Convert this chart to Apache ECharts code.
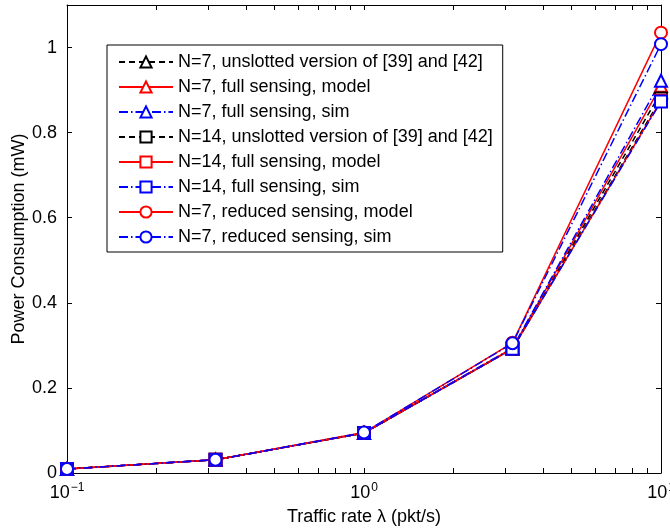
<!DOCTYPE html>
<html>
<head>
<meta charset="utf-8">
<script src="https://cdn.jsdelivr.net/npm/echarts@6/dist/echarts.min.js"></script>
<style>
  html, body { margin: 0; padding: 0; background: #fff; }
  #chart { width: 670px; height: 528px; }
</style>
</head>
<body>
<div id="chart"></div>
<script>
// Traffic rate lambda (pkt/s), sampled at half-decade steps
const trafficRate = [0.1, 0.3162, 1, 3.162, 10];

// Power consumption (mW) for each configuration
const n7Unslotted      = [0.0095, 0.031, 0.094, 0.292, 0.895];
const n7FullModel      = [0.0095, 0.031, 0.094, 0.293, 0.910];
const n7FullSim        = [0.0095, 0.031, 0.094, 0.294, 0.922];
const n14Unslotted     = [0.0095, 0.031, 0.094, 0.292, 0.880];
const n14FullModel     = [0.0095, 0.031, 0.094, 0.292, 0.875];
const n14FullSim       = [0.0095, 0.031, 0.094, 0.292, 0.873];
const n7ReducedModel   = [0.0095, 0.031, 0.095, 0.306, 1.035];
const n7ReducedSim     = [0.0095, 0.031, 0.095, 0.305, 1.008];

const seriesNames = [
  'N=7, unslotted version of [39] and [42]',
  'N=7, full sensing, model',
  'N=7, full sensing, sim',
  'N=14, unslotted version of [39] and [42]',
  'N=14, full sensing, model',
  'N=14, full sensing, sim',
  'N=7, reduced sensing, model',
  'N=7, reduced sensing, sim'
];

// Tick positions
const xMinorTicks = [0.1,0.2,0.3,0.4,0.5,0.6,0.7,0.8,0.9,1,2,3,4,5,6,7,8,9,10];
const xLabelTicks = [0.1, 1, 10];
const yTicks = [0, 0.2, 0.4, 0.6, 0.8, 1];

const FONT = '"Liberation Sans", Arial, Helvetica, sans-serif';
const DASH = [6, 4];
const DASHDOT = [9, 3, 1.5, 3];

function pairs(ys) { return trafficRate.map((x, i) => [x, ys[i]]); }

function mkSeries(name, ys, color, dash, symbol) {
  return {
    name: name,
    type: 'line',
    data: pairs(ys),
    symbol: symbol,
    symbolSize: 12,
    showAllSymbol: true,
    lineStyle: { color: color, width: 1.5, type: dash },
    itemStyle: { color: color, borderColor: color, borderWidth: 1.5 },
    emphasis: { disabled: true },
    animation: false
  };
}

const chart = echarts.init(document.getElementById('chart'), null, { renderer: 'canvas' });

const axisLineStyle = { color: '#000', width: 1 };

chart.setOption({
  backgroundColor: '#fff',
  animation: false,
  grid: { left: 67, right: 9, top: 5, bottom: 55, containLabel: false, outerBoundsMode: 'none' },
  legend: {
    orient: 'vertical',
    left: 107,
    top: 45,
    padding: [8, 10, 6, 11],
    itemWidth: 54,
    itemHeight: 14,
    itemGap: 7,
    borderColor: '#000',
    borderWidth: 1,
    backgroundColor: '#fff',
    textStyle: { fontFamily: FONT, fontSize: 18, color: '#000', lineHeight: 18 },
    data: seriesNames
  },
  xAxis: [{
    type: 'log',
    logBase: 10,
    min: 0.1,
    max: 10,
    position: 'bottom',
    name: 'Traffic rate λ (pkt/s)',
    nameLocation: 'middle',
    nameGap: 35,
    nameMoveOverlap: false,
    nameTextStyle: { fontFamily: FONT, fontSize: 18, color: '#000' },
    axisLine: { onZero: false, lineStyle: axisLineStyle },
    axisTick: { inside: true, length: 5, lineStyle: axisLineStyle, customValues: xMinorTicks },
    splitLine: { show: false },
    axisLabel: {
      customValues: xLabelTicks,
      margin: 9,
      color: '#000',
      fontFamily: FONT,
      hideOverlap: false,
      formatter: function (v) {
        const e = Math.round(Math.log10(v));
        return '{b|10}{s|' + (e < 0 ? '\u2212' + (-e) : e) + '}';
      },
      rich: {
        b: { fontFamily: FONT, fontSize: 18, color: '#000', verticalAlign: 'bottom', lineHeight: 20 },
        s: { fontFamily: FONT, fontSize: 12, color: '#000', verticalAlign: 'top', lineHeight: 20, padding: [0, 0, 8, 1] }
      }
    }
  }, {
    type: 'log',
    logBase: 10,
    min: 0.1,
    max: 10,
    position: 'top',
    axisLine: { onZero: false, lineStyle: axisLineStyle },
    axisTick: { inside: true, length: 5, lineStyle: axisLineStyle, customValues: xMinorTicks },
    axisLabel: { show: false },
    splitLine: { show: false }
  }],
  yAxis: [{
    type: 'value',
    min: 0,
    max: 1.1,
    interval: 0.2,
    position: 'left',
    name: 'Power Consumption (mW)',
    nameLocation: 'middle',
    nameGap: 39,
    nameMoveOverlap: false,
    nameTextStyle: { fontFamily: FONT, fontSize: 18, color: '#000' },
    axisLine: { onZero: false, lineStyle: axisLineStyle },
    axisTick: { inside: true, length: 5, lineStyle: axisLineStyle, customValues: yTicks },
    splitLine: { show: false },
    axisLabel: {
      customValues: yTicks,
      margin: 10,
      color: '#000',
      fontFamily: FONT,
      fontSize: 18,
      formatter: function (v) { return String(Math.round(v * 10) / 10); }
    }
  }, {
    type: 'value',
    min: 0,
    max: 1.1,
    interval: 0.2,
    position: 'right',
    axisLine: { onZero: false, lineStyle: axisLineStyle },
    axisTick: { inside: true, length: 5, lineStyle: axisLineStyle, customValues: yTicks },
    axisLabel: { show: false },
    splitLine: { show: false }
  }],
  series: [
    mkSeries(seriesNames[0], n7Unslotted,    '#000000', DASH,    'emptyTriangle'),
    mkSeries(seriesNames[1], n7FullModel,    '#ff0000', 'solid', 'emptyTriangle'),
    mkSeries(seriesNames[2], n7FullSim,      '#0000ff', DASHDOT, 'emptyTriangle'),
    mkSeries(seriesNames[3], n14Unslotted,   '#000000', DASH,    'emptyRect'),
    mkSeries(seriesNames[4], n14FullModel,   '#ff0000', 'solid', 'emptyRect'),
    mkSeries(seriesNames[5], n14FullSim,     '#0000ff', DASHDOT, 'emptyRect'),
    mkSeries(seriesNames[6], n7ReducedModel, '#ff0000', 'solid', 'emptyCircle'),
    mkSeries(seriesNames[7], n7ReducedSim,   '#0000ff', DASHDOT, 'emptyCircle')
  ]
});
</script>
</body>
</html>
